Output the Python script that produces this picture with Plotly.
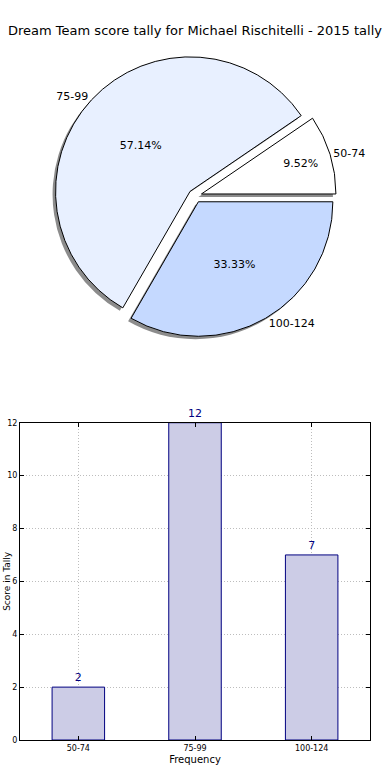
import plotly.graph_objects as go

title_text = "Dream Team score tally for Michael Rischitelli - 2015 tally"
categories = ["50-74", "75-99", "100-124"]
counts = [2, 12, 7]
pie_colors = ["#ffffff", "#e8f0ff", "#c5d9ff"]
y_ticks = [0, 2, 4, 6, 8, 10, 12]
y_title = "Score in Tally"
x_title = "Frequency"

W, H = 390, 780
ml, mr, mt, mb = 20, 20, 0, 40
pw, ph = W - ml - mr, H - mt - mb

def px_x(x):
    return (x - ml) / pw

def px_y(y):
    return (H - mb - y) / ph

# matplotlib starts at 3 o'clock going counterclockwise; plotly's ccw places the
# first slice clockwise of `rotation`, so shift by the first slice's angle
first_angle = 360 * counts[0] / sum(counts)
rot = 90 - first_angle

cx, cy, R = 195, 193, 142
pull = [0.05, 0.05, 0.05]
dom_x = [px_x(cx - R), px_x(cx + R)]
dom_y = [px_y(cy + R), px_y(cy - R)]
sh = 3
shadow_x = [px_x(cx - R - sh), px_x(cx + R - sh)]
shadow_y = [px_y(cy + R + sh), px_y(cy - R + sh)]

fig = go.Figure()

# shadow
fig.add_trace(go.Pie(
    labels=categories, values=counts, sort=False, direction="counterclockwise",
    rotation=rot, pull=pull, domain=dict(x=shadow_x, y=shadow_y),
    marker=dict(colors=["rgba(0,0,0,0.45)"] * 3, line=dict(width=0)),
    textinfo="none", hoverinfo="skip", showlegend=False,
))
# main pie with percentages
fig.add_trace(go.Pie(
    labels=categories, values=counts, sort=False, direction="counterclockwise",
    rotation=rot, pull=pull, domain=dict(x=dom_x, y=dom_y),
    marker=dict(colors=pie_colors, line=dict(color="black", width=1)),
    texttemplate="%{percent:.2%}", textposition="inside", insidetextorientation="horizontal",
    textfont=dict(family="DejaVu Sans", size=11, color="black"),
    showlegend=False,
))
# labels outside
fig.add_trace(go.Pie(
    labels=categories, values=counts, sort=False, direction="counterclockwise",
    rotation=rot, pull=pull, domain=dict(x=dom_x, y=dom_y),
    marker=dict(colors=["rgba(0,0,0,0)"] * 3, line=dict(width=0)),
    textinfo="label", textposition="outside",
    textfont=dict(family="DejaVu Sans", size=11, color="black"),
    showlegend=False, hoverinfo="skip",
))

fig.add_trace(go.Bar(
    x=categories, y=counts, width=0.45,
    marker=dict(color="rgb(204,204,230)", line=dict(color="#000080", width=1)),
    text=[str(c) for c in counts], textposition="outside", cliponaxis=False,
    textfont=dict(family="DejaVu Sans", size=11, color="#000080"),
    showlegend=False, xaxis="x", yaxis="y",
))

grid_style = dict(showgrid=True, gridcolor="#bdbdbd", griddash="1px,2px", gridwidth=1)

fig.update_layout(
    width=W, height=H,
    margin=dict(l=ml, r=mr, t=mt, b=mb),
    paper_bgcolor="white", plot_bgcolor="white",
    font=dict(family="DejaVu Sans", color="black"),
    title=dict(text=title_text, x=0.5, xanchor="center", y=1 - 30 / H, yanchor="middle",
               yref="container", font=dict(size=13, color="black")),
    xaxis=dict(
        domain=[0, 1], range=[-0.5, 2.5], type="category",
        showline=True, linecolor="black", linewidth=1, mirror="ticks",
        ticks="inside", ticklen=4, tickcolor="black",
        tickfont=dict(size=8, color="black"),
        title=dict(text=x_title, font=dict(size=10, color="black"), standoff=4),
        zeroline=False, **grid_style,
    ),
    yaxis=dict(
        domain=[0, px_y(421)], range=[0, 12], tickvals=y_ticks,
        showline=True, linecolor="black", linewidth=1, mirror="ticks",
        ticks="inside", ticklen=4, tickcolor="black",
        tickfont=dict(size=8, color="black"),
        zeroline=False, **grid_style,
    ),
    annotations=[dict(
        text=y_title, xref="paper", yref="paper", x=px_x(0), y=px_y(580),
        xanchor="left", yanchor="middle", textangle=-90, showarrow=False,
        font=dict(size=9, color="black"),
    )],
)

fig.write_html(
    "out.html",
    config={"displayModeBar": False},
    post_script="document.body.style.margin='0';document.body.style.padding='0';",
)
